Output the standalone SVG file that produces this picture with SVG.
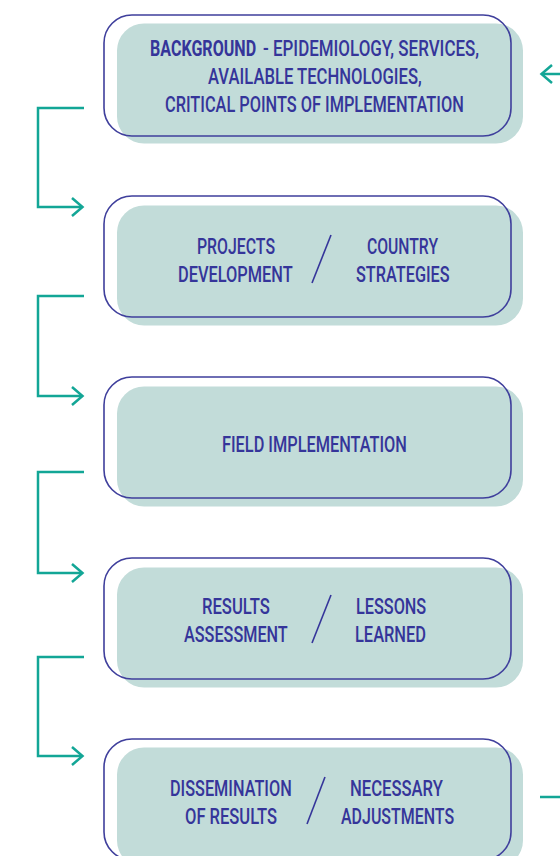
<svg xmlns="http://www.w3.org/2000/svg" width="560" height="856" viewBox="0 0 560 856">
<style>
.fill{fill:#c2dcd9}
.out{fill:none;stroke:#3f3f9c;stroke-width:1.6}
.t{font-family:Roboto,"Liberation Sans",sans-serif;font-size:22.5px;font-weight:500;fill:#35359a;text-anchor:start}
.b{font-weight:bold}
.sl{stroke:#35359a;stroke-width:1.6;fill:none}
.c{fill:none;stroke:#13a696;stroke-width:2.5;stroke-linejoin:miter}
</style>
<rect width="560" height="856" fill="#ffffff"/>
<g id="n1">
<rect class="fill" x="117" y="23.5" width="406" height="120" rx="27"/>
<rect class="out" x="104" y="15" width="407" height="121" rx="28"/>
<text class="t b" transform="translate(150 56) scale(0.78 1)" textLength="136" lengthAdjust="spacingAndGlyphs">BACKGROUND</text>
<text class="t" transform="translate(263 56) scale(0.78 1)" textLength="277" lengthAdjust="spacingAndGlyphs">- EPIDEMIOLOGY, SERVICES,</text>
<text class="t" transform="translate(208 84) scale(0.78 1)" textLength="274" lengthAdjust="spacingAndGlyphs">AVAILABLE TECHNOLOGIES,</text>
<text class="t" transform="translate(165 112) scale(0.78 1)" textLength="383" lengthAdjust="spacingAndGlyphs">CRITICAL POINTS OF IMPLEMENTATION</text>
</g>
<g id="n2">
<rect class="fill" x="117" y="205.5" width="406" height="120" rx="27"/>
<rect class="out" x="104" y="196" width="407" height="121" rx="28"/>
<text class="t" transform="translate(197 254) scale(0.78 1)" textLength="100" lengthAdjust="spacingAndGlyphs">PROJECTS</text>
<text class="t" transform="translate(178 282) scale(0.78 1)" textLength="147" lengthAdjust="spacingAndGlyphs">DEVELOPMENT</text>
<line class="sl" x1="331" y1="235" x2="312" y2="283"/>
<text class="t" transform="translate(367 254) scale(0.78 1)" textLength="91" lengthAdjust="spacingAndGlyphs">COUNTRY</text>
<text class="t" transform="translate(356 282) scale(0.78 1)" textLength="120" lengthAdjust="spacingAndGlyphs">STRATEGIES</text>
</g>
<g id="n3">
<rect class="fill" x="117" y="386.5" width="406" height="120" rx="27"/>
<rect class="out" x="104" y="377" width="407" height="121" rx="28"/>
<text class="t" transform="translate(222 452) scale(0.78 1)" textLength="237" lengthAdjust="spacingAndGlyphs">FIELD IMPLEMENTATION</text>
</g>
<g id="n4">
<rect class="fill" x="117" y="567.5" width="406" height="120" rx="27"/>
<rect class="out" x="104" y="558" width="407" height="121" rx="28"/>
<text class="t" transform="translate(202 614) scale(0.78 1)" textLength="87" lengthAdjust="spacingAndGlyphs">RESULTS</text>
<text class="t" transform="translate(184 642) scale(0.78 1)" textLength="133" lengthAdjust="spacingAndGlyphs">ASSESSMENT</text>
<line class="sl" x1="331" y1="595" x2="312" y2="643"/>
<text class="t" transform="translate(356 614) scale(0.78 1)" textLength="90" lengthAdjust="spacingAndGlyphs">LESSONS</text>
<text class="t" transform="translate(355 642) scale(0.78 1)" textLength="91" lengthAdjust="spacingAndGlyphs">LEARNED</text>
</g>
<g id="n5">
<rect class="fill" x="117" y="747.5" width="406" height="120" rx="27"/>
<rect class="out" x="104" y="739" width="407" height="121" rx="28"/>
<text class="t" transform="translate(170 796) scale(0.78 1)" textLength="156" lengthAdjust="spacingAndGlyphs">DISSEMINATION</text>
<text class="t" transform="translate(185 824) scale(0.78 1)" textLength="118" lengthAdjust="spacingAndGlyphs">OF RESULTS</text>
<line class="sl" x1="325" y1="777" x2="307" y2="824"/>
<text class="t" transform="translate(350 796) scale(0.78 1)" textLength="119" lengthAdjust="spacingAndGlyphs">NECESSARY</text>
<text class="t" transform="translate(341 824) scale(0.78 1)" textLength="145" lengthAdjust="spacingAndGlyphs">ADJUSTMENTS</text>
</g>
<g id="connectors">
<path class="c" d="M84 108H38V207H82"/>
<path class="c" d="M72 198L82.5 207L72 216"/>
<path class="c" d="M84 296H38V396H82"/>
<path class="c" d="M72 387L82.5 396L72 405"/>
<path class="c" d="M84 472H38V573H82"/>
<path class="c" d="M72 564L82.5 573L72 582"/>
<path class="c" d="M84 657H38V756H82"/>
<path class="c" d="M72 747L82.5 756L72 765"/>
<path class="c" d="M560 74H542"/>
<path class="c" d="M552 65L541.5 74L552 83"/>
<path class="c" d="M540 797H560"/>
</g>
</svg>
